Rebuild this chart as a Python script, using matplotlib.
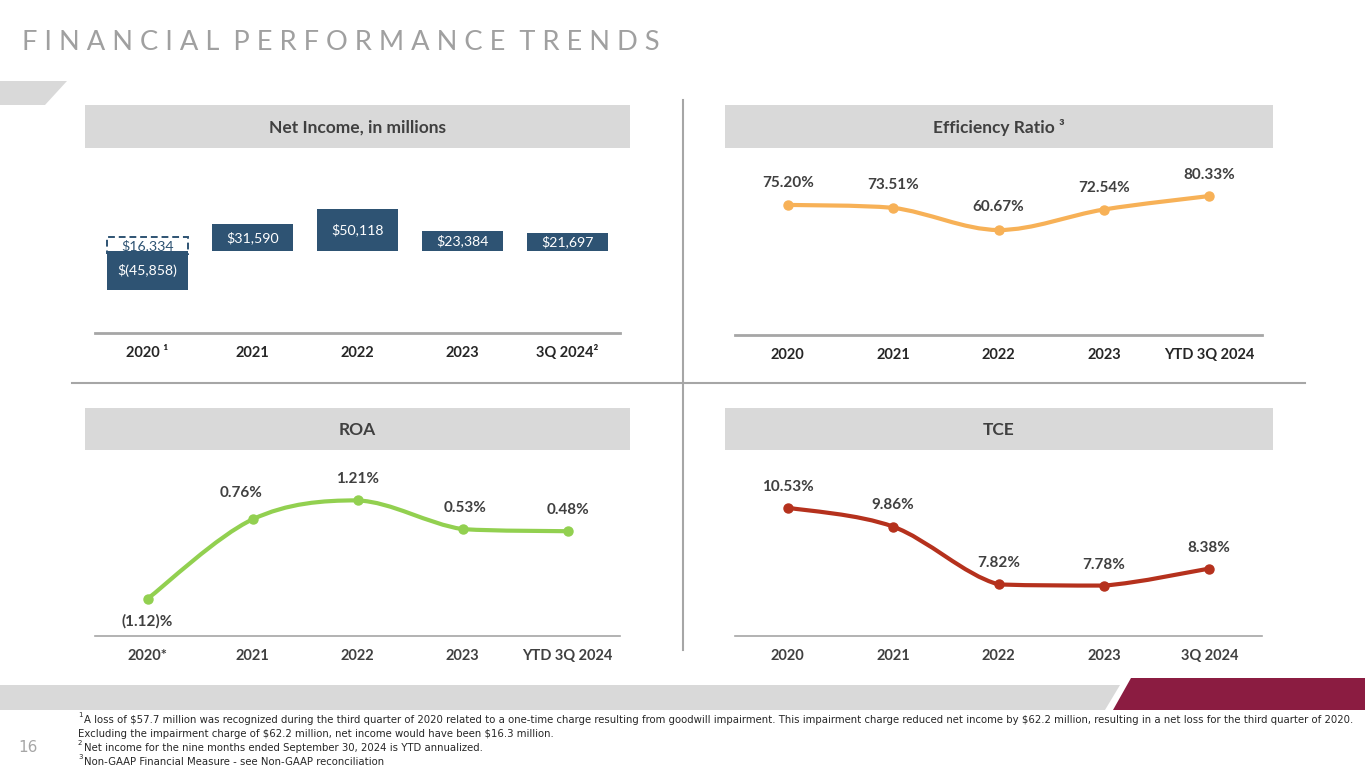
import numpy as np
import matplotlib
matplotlib.use("Agg")
import matplotlib.pyplot as plt
from matplotlib.path import Path
from matplotlib.patches import PathPatch, Polygon, Rectangle

plt.rcParams['font.family'] = ['Lato', 'DejaVu Sans']
plt.rcParams['text.parse_math'] = False

# data
ni_labels = ['2020 \u00b9', '2021', '2022', '2023', '3Q 2024\u00b2']
ni_values = [-45858, 31590, 50118, 23384, 21697]
ni_adjusted_2020 = 16334

eff_labels = ['2020', '2021', '2022', '2023', 'YTD 3Q 2024']
eff_values = [75.20, 73.51, 60.67, 72.54, 80.33]

roa_labels = ['2020*', '2021', '2022', '2023', 'YTD 3Q 2024']
roa_values = [-1.12, 0.76, 1.21, 0.53, 0.48]

tce_labels = ['2020', '2021', '2022', '2023', '3Q 2024']
tce_values = [10.53, 9.86, 7.82, 7.78, 8.38]

footnotes = [
    ('1', 'A loss of $57.7 million was recognized during the third quarter of 2020 related to a one-time charge resulting from goodwill impairment. '
          'This impairment charge reduced net income by $62.2 million, resulting in a net loss for the third quarter of 2020.'),
    ('', 'Excluding the impairment charge of $62.2 million, net income would have been $16.3 million.'),
    ('2', 'Net income for the nine months ended September 30, 2024 is YTD annualized.'),
    ('3', 'Non-GAAP Financial Measure - see Non-GAAP reconciliation'),
]

W, H = 1365, 768
BAR = '#2e5373'
HDR = '#d9d9d9'
DARK = '#404040'

fig = plt.figure(figsize=(W / 100, H / 100), dpi=100)

bg = fig.add_axes([0, 0, 1, 1])
bg.set_xlim(0, W)
bg.set_ylim(H, 0)
bg.axis('off')


def px_axes(x0, y0, x1, y1):
    return fig.add_axes([x0 / W, 1 - y1 / H, (x1 - x0) / W, (y1 - y0) / H])


# page decorations
bg.text(22, 42, 'F I N A N C I A L  P E R F O R M A N C E  T R E N D S',
        fontsize=19.6, color='#a0a0a0', va='center', ha='left')
bg.add_patch(Polygon([(0, 81), (67, 81), (45, 105), (0, 105)], color=HDR, lw=0))
bg.add_patch(Polygon([(0, 685), (1120, 685), (1105, 710), (0, 710)], color=HDR, lw=0))
bg.add_patch(Polygon([(1131, 678), (1365, 678), (1365, 710), (1113, 710)], color='#8b1c41', lw=0))
bg.plot([683, 683], [100, 650], color='#a6a6a6', lw=1.5)
bg.plot([72, 1305], [383, 383], color='#a6a6a6', lw=1.5)
bg.text(18, 747, '16', fontsize=11, color='#a6a6a6', va='center', ha='left', family='DejaVu Sans')

headers = [((85, 105, 630, 148), 'Net Income, in millions'),
           ((725, 105, 1273, 148), 'Efficiency Ratio \u00b3'),
           ((85, 408, 630, 450), 'ROA'),
           ((725, 408, 1273, 450), 'TCE')]
for (x0, y0, x1, y1), txt in headers:
    bg.add_patch(Rectangle((x0, y0), x1 - x0, y1 - y0, color=HDR, lw=0))
    bg.text((x0 + x1) / 2, (y0 + y1) / 2 + 1, txt, fontsize=12.5, fontweight='bold',
            color=DARK, ha='center', va='center')

# footnotes
fy = [720, 734, 748, 762]
for (sup, txt), y in zip(footnotes, fy):
    if sup:
        bg.text(78, y - 5, sup, fontsize=5, color='#262626', va='center', ha='left', family='DejaVu Sans')
        bg.text(84, y, txt, fontsize=7.25, color='#262626', va='center', ha='left', family='DejaVu Sans')
    else:
        bg.text(78, y, txt, fontsize=7.25, color='#262626', va='center', ha='left', family='DejaVu Sans')


def style_axes(ax, labels, lw, tick_color):
    ax.set_facecolor('none')
    for s in ['top', 'left', 'right']:
        ax.spines[s].set_visible(False)
    ax.spines['bottom'].set_color('#a6a6a6')
    ax.spines['bottom'].set_linewidth(lw)
    ax.set_xlim(-0.5, len(labels) - 0.5)
    ax.set_xticks(range(len(labels)), labels)
    ax.set_yticks([])
    ax.tick_params(axis='x', length=0, pad=17, labelsize=10.5, labelcolor=tick_color)
    for t in ax.get_xticklabels():
        t.set_fontweight('bold')
        t.set_verticalalignment('baseline')


def smooth_line(ax, values, color):
    # bezier through the points, control points kept inside each segment's range
    x = np.arange(len(values), dtype=float)
    y = np.asarray(values, dtype=float)
    n = len(x)
    verts = [(x[0], y[0])]
    codes = [Path.MOVETO]
    for i in range(n - 1):
        p0 = max(i - 1, 0)
        p3 = min(i + 2, n - 1)
        lo, hi = min(y[i], y[i + 1]), max(y[i], y[i + 1])
        c1 = (x[i] + (x[i + 1] - x[p0]) / 6, np.clip(y[i] + (y[i + 1] - y[p0]) / 6, lo, hi))
        c2 = (x[i + 1] - (x[p3] - x[i]) / 6, np.clip(y[i + 1] - (y[p3] - y[i]) / 6, lo, hi))
        verts += [c1, c2, (x[i + 1], y[i + 1])]
        codes += [Path.CURVE4] * 3
    ax.add_patch(PathPatch(Path(verts, codes), fill=False, edgecolor=color, lw=3,
                           capstyle='round', joinstyle='round', zorder=2))
    ax.plot(x, y, 'o', color=color, ms=6.5, zorder=3)


def point_labels(ax, values, texts, offsets, dx=None):
    if dx is None:
        dx = [0] * len(values)
    for i, (v, t, o, d) in enumerate(zip(values, texts, offsets, dx)):
        ax.annotate(t, (i, v), xytext=(d, o), textcoords='offset pixels',
                    ha='center', va='center', fontsize=11, fontweight='bold', color=DARK)


# Net income bars
ax1 = px_axes(95, 160, 620, 333)
style_axes(ax1, ni_labels, 2.0, '#262626')
ax1.set_ylim(-97600, 108300)
xs = np.arange(len(ni_values))
ax1.bar(xs, ni_values, width=0.78, color=BAR, zorder=2)
box_bottom = -3500
ax1.bar(0, ni_adjusted_2020 - box_bottom, bottom=box_bottom, width=0.78, facecolor='white',
        edgecolor=BAR, linestyle=(0, (3.5, 2)), lw=1.4, zorder=1)
for i, v in enumerate(ni_values):
    txt = '$({:,})'.format(-v) if v < 0 else '${:,}'.format(v)
    ax1.text(i, v / 2, txt, ha='center', va='center', color='white', fontsize=10.2, zorder=3)
ax1.text(0, (ni_adjusted_2020 + box_bottom) / 2, '${:,}'.format(ni_adjusted_2020), ha='center',
         va='center', color=BAR, fontsize=10.2, zorder=3)

# Efficiency ratio
ax2 = px_axes(735, 162, 1262, 335)
style_axes(ax2, eff_labels, 2.0, '#262626')
ax2.set_ylim(0, 100)
smooth_line(ax2, eff_values, '#f7b157')
point_labels(ax2, eff_values, ['{:.2f}%'.format(v) for v in eff_values], [22, 23, 23, 22, 21])

# ROA
ax3 = px_axes(95, 467, 620, 636)
style_axes(ax3, roa_labels, 1.2, DARK)
ax3.set_ylim(-2, 2)
smooth_line(ax3, roa_values, '#92d050')
roa_txt = ['({:.2f})%'.format(-v) if v < 0 else '{:.2f}%'.format(v) for v in roa_values]
point_labels(ax3, roa_values, roa_txt, [-23, 26, 21, 21, 21], [0, -11, 0, 3, 0])

# TCE
ax4 = px_axes(735, 466, 1262, 636)
style_axes(ax4, tce_labels, 1.2, DARK)
ax4.set_ylim(6, 12)
smooth_line(ax4, tce_values, '#b5311d')
point_labels(ax4, tce_values, ['{:.2f}%'.format(v) for v in tce_values], [21, 22, 21, 21, 21])

fig.savefig('out.png', dpi=100)
